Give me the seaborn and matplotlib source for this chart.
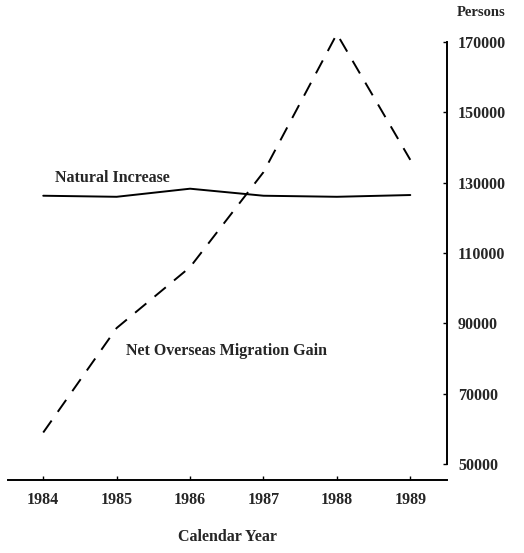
import matplotlib
matplotlib.use("Agg")
import matplotlib.pyplot as plt
import seaborn as sns
import pandas as pd

years = [1984, 1985, 1986, 1987, 1988, 1989]
natural_increase = [126300, 126000, 128300, 126300, 126000, 126500]
net_migration = [59000, 88700, 106000, 133000, 172300, 136500]
y_ticks = [50000, 70000, 90000, 110000, 130000, 150000, 170000]

sns.set_theme(style="white")
plt.rcParams['font.family'] = ['Liberation Serif', 'DejaVu Serif']

fig = plt.figure(figsize=(5.24, 5.53), dpi=100)
ax = fig.add_axes([8/524, 1-480/553, (447-8)/524, (480-24.4)/553])

df_ni = pd.DataFrame({"year": years, "value": natural_increase})
df_nm = pd.DataFrame({"year": years, "value": net_migration})
sns.lineplot(data=df_ni, x="year", y="value", ax=ax, color="black", lw=1.4)
sns.lineplot(data=df_nm, x="year", y="value", ax=ax, color="black", lw=1.4,
             dashes=False)
ax.lines[-1].set_dashes((7.5, 5.5))

ax.set_xlim(1983.52, 1989.5)
ax.set_ylim(45500, 175000)
ax.set_xticks(years)
ax.set_xticklabels([str(y) for y in years])
ax.set_yticks(y_ticks)
ax.set_yticklabels([str(v) for v in y_ticks])

ax.yaxis.tick_right()
ax.spines['left'].set_visible(False)
ax.spines['top'].set_visible(False)
ax.spines['right'].set_bounds(50000, 170000)
for s in ('right', 'bottom'):
    ax.spines[s].set_color('black')
    ax.spines[s].set_linewidth(1.4)
fs = 11.5
ax.tick_params(axis='y', direction='in', length=3, width=1, color='black',
               pad=8, labelsize=fs, right=True, left=False)
ax.tick_params(axis='x', direction='in', length=3, width=1, color='black',
               pad=9, labelsize=fs, bottom=True)
for lbl in ax.get_xticklabels() + ax.get_yticklabels():
    lbl.set_fontweight('semibold')

ax.set_xlabel("Calendar Year", fontsize=fs, fontweight='semibold', labelpad=15)
ax.set_ylabel("")

ax.text(1984.16, 131400, "Natural Increase", fontsize=fs, fontweight='semibold',
        ha='left', va='center')
ax.text(1985.13, 82300, "Net Overseas Migration Gain", fontsize=fs,
        fontweight='semibold', ha='left', va='center')
fig.text(457/524, 1-13/553, "Persons", fontsize=10.5, fontweight='semibold',
         ha='left', va='center')

fig.savefig("out.png", dpi=100)
